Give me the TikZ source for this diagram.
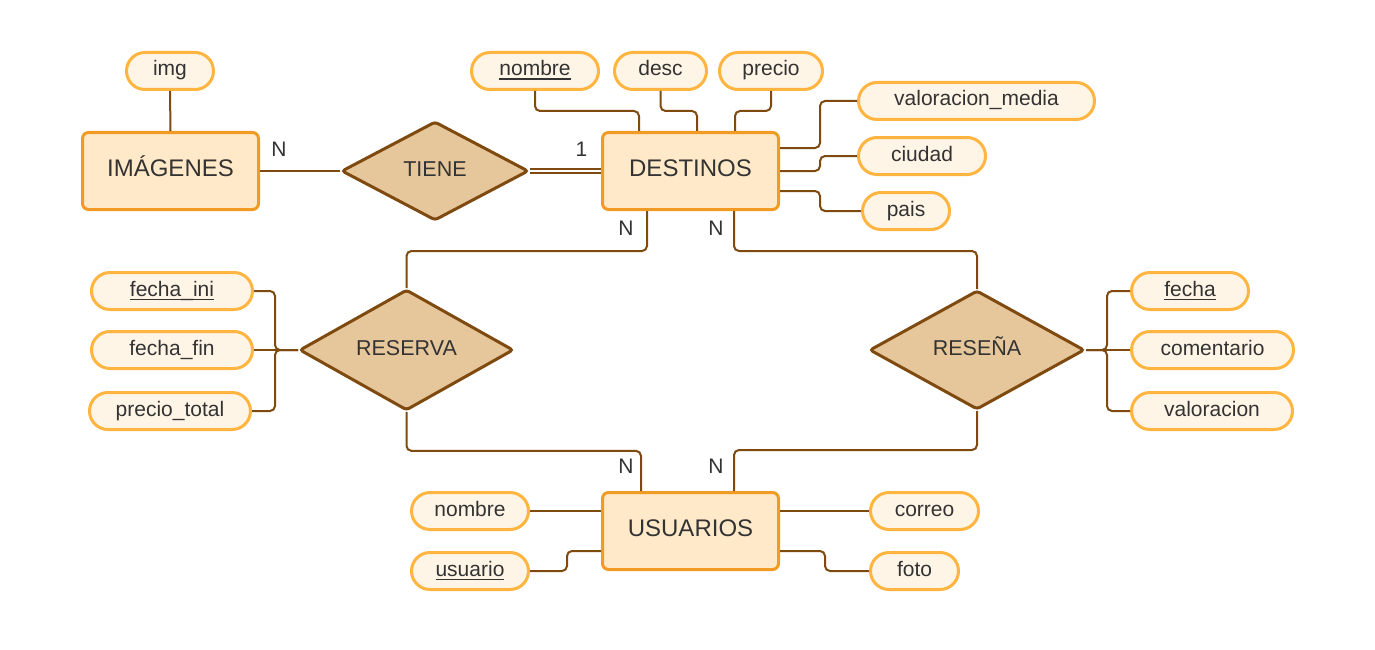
\documentclass[tikz,border=0pt]{standalone}
\usepackage{fontspec}
\setmainfont{Liberation Sans}
\usetikzlibrary{shapes.geometric}
\definecolor{entfill}{HTML}{FFE9C8}
\definecolor{entline}{HTML}{F29B24}
\definecolor{atfill}{HTML}{FFF5E6}
\definecolor{atline}{HTML}{FFB53F}
\definecolor{relfill}{HTML}{E6C69B}
\definecolor{relline}{HTML}{7F4A10}
\definecolor{txt}{HTML}{333333}
% clave subrayada
\newcommand{\keyu}[1]{\setbox0\hbox{#1}\rlap{\rule[-4pt]{\wd0}{1.5pt}}\box0}
\begin{document}
\begin{tikzpicture}[x=1pt,y=-1pt,
  entbox/.style={draw=entline,fill=entfill,line width=3pt,rounded corners=6pt,minimum width=176pt,minimum height=77pt,inner sep=0pt,text=txt,text height=17pt,text depth=7pt,font=\fontsize{24}{28}\selectfont},
  attrbox/.style={draw=atline,fill=atfill,line width=3pt,rounded corners=18.5pt,minimum height=37pt,inner sep=0pt,text=txt,text height=15pt,text depth=5pt,font=\fontsize{21}{25}\selectfont},
  relbox/.style={diamond,draw=relline,fill=relfill,line width=3pt,rounded corners=3pt,inner sep=0pt,text=txt,text height=15pt,text depth=5pt,font=\fontsize{21.5}{25}\selectfont},
  cardtxt/.style={text=txt,inner sep=0pt,font=\fontsize{21}{25}\selectfont},
  conn/.style={draw=relline,line width=2pt,rounded corners=5pt}]

\fill[white] (0,0) rectangle (1375,650);

% entidades
\node[entbox] (imgs) at (170.5,171) {IMÁGENES};
\node[entbox] (dest) at (690.5,171) {DESTINOS};
\node[entbox] (usu) at (690.5,531) {USUARIOS};

% relaciones
\node[relbox,minimum width=187pt,minimum height=99pt] (tiene) at (435,171) {TIENE};
\node[relbox,minimum width=214pt,minimum height=119pt] (reserva) at (406.5,350) {RESERVA};
\node[relbox,minimum width=215pt,minimum height=119pt] (resena) at (977,350) {RESEÑA};

% atributos
\node[attrbox,minimum width=87pt] (aimg) at (170,71) {img};
\node[attrbox,minimum width=127pt] (anom) at (535,71) {\keyu{nombre}};
\node[attrbox,minimum width=92pt] (adesc) at (660.5,71) {desc};
\node[attrbox,minimum width=103pt] (aprec) at (771,71) {precio};
\node[attrbox,minimum width=236pt] (avmed) at (976.5,101) {valoracion\_media};
\node[attrbox,minimum width=127pt] (aciu) at (922,156) {ciudad};
\node[attrbox,minimum width=87pt] (apais) at (906,211) {pais};

\node[attrbox,minimum width=161pt] (afini) at (172,291) {\keyu{fecha\_ini}};
\node[attrbox,minimum width=161pt] (affin) at (172,350) {fecha\_fin};
\node[attrbox,minimum width=161pt] (aptot) at (170,411) {precio\_total};

\node[attrbox,minimum width=117pt] (afecha) at (1190,291) {\keyu{fecha}};
\node[attrbox,minimum width=162pt] (acom) at (1212.5,350) {comentario};
\node[attrbox,minimum width=161pt] (aval) at (1212,411) {valoracion};

\node[attrbox,minimum width=117pt] (anom2) at (470,511) {nombre};
\node[attrbox,minimum width=117pt] (ausu) at (470,571) {\keyu{usuario}};
\node[attrbox,minimum width=108pt] (acorr) at (924.5,511) {correo};
\node[attrbox,minimum width=88pt] (afoto) at (914.5,571) {foto};

% cardinalidades
\node[cardtxt] (c1) at (279,149) {N};
\node[cardtxt] (c2) at (581.5,149) {1};
\node[cardtxt] (c3) at (626,228.5) {N};
\node[cardtxt] (c4) at (716,228.5) {N};
\node[cardtxt] (c5) at (626,466.5) {N};
\node[cardtxt] (c6) at (716,466.5) {N};

% imagenes - tiene - destinos
\draw[conn] (aimg.south) -- (imgs.north);
\draw[conn] (imgs.east) -- (tiene.west);
\draw[conn,double=white,double distance=2.2pt,line width=1.8pt] (tiene.east) -- (dest.west);

% atributos de destinos
\draw[conn] (anom.south) -- ++(0,20) -| ([xshift=-51.5pt]dest.north);
\draw[conn] (adesc.south) -- ++(0,20) -| ([xshift=6.5pt]dest.north);
\draw[conn] (aprec.south) -- ++(0,20) -| ([xshift=44.5pt]dest.north);
\draw[conn] ([yshift=23pt]dest.east) -- ++(40,0) |- (avmed.west);
\draw[conn] (dest.east) -- ++(40,0) |- (aciu.west);
\draw[conn] ([yshift=-20pt]dest.east) -- ++(40,0) |- (apais.west);

% destinos - reserva / resena - usuarios
\draw[conn] ([xshift=-43.5pt]dest.south) -- ++(0,40) -| (reserva.north);
\draw[conn] ([xshift=43.5pt]dest.south) -- ++(0,40) -| (resena.north);
\draw[conn] (reserva.south) -- ++(0,39) -| ([xshift=-49.5pt]usu.north);
\draw[conn] (resena.south) -- ++(0,39) -| ([xshift=43.5pt]usu.north);

% atributos de reserva
\draw[conn] (reserva.west) -- ++(-23,0) |- (afini.east);
\draw[conn] (reserva.west) -- (affin.east);
\draw[conn] (reserva.west) -- ++(-23,0) |- (aptot.east);

% atributos de resena
\draw[conn] (resena.east) -- ++(21,0) |- (afecha.west);
\draw[conn] (resena.east) -- (acom.west);
\draw[conn] (resena.east) -- ++(21,0) |- (aval.west);

% atributos de usuarios
\draw[conn] ([yshift=20pt]usu.west) -- (anom2.east);
\draw[conn] ([yshift=-20pt]usu.west) -- ++(-34,0) |- (ausu.east);
\draw[conn] ([yshift=20pt]usu.east) -- (acorr.west);
\draw[conn] ([yshift=-20pt]usu.east) -- ++(45,0) |- (afoto.west);

\end{tikzpicture}
\end{document}
